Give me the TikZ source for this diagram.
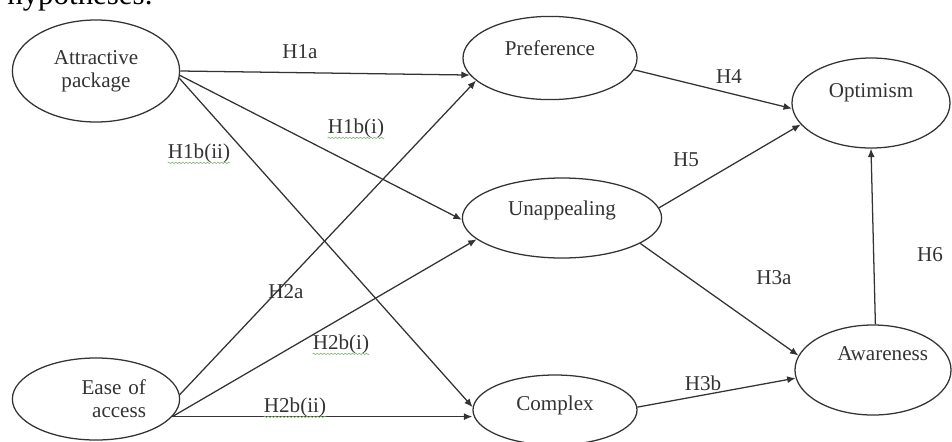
\documentclass[tikz,border=0pt]{standalone}
\usepackage{fontspec}
\setmainfont{Liberation Serif}
\usetikzlibrary{shapes.geometric,arrows.meta,decorations.pathmorphing}
\definecolor{spellgreen}{RGB}{125,175,110}

\begin{document}
\begin{tikzpicture}[x=0.025cm, y=-0.025cm]
	\tikzstyle{var}=[ellipse, draw=black!80, line width=0.9pt, inner sep=0pt, text=black!80, font=\fontsize{15}{16.5}\selectfont]
	\tikzstyle{hyp}=[inner sep=0pt, text=black!80, font=\fontsize{15}{16.5}\selectfont]
	\tikzstyle{arr}=[-{Latex[length=6pt, width=5pt]}, draw=black!80, line width=0.9pt]
	\tikzstyle{spell}=[spellgreen, line width=0.4pt, decorate, decoration={snake, amplitude=0.5pt, segment length=2.5pt}]
	\useasboundingbox (0, 0) rectangle (952, 441);

	\draw node[anchor=base west, inner sep=0pt, font=\fontsize{22}{26}\selectfont] at (7, 4) (top) {hypotheses.};

	\draw node[var, minimum width=4.18cm, minimum height=2.55cm, align=center] at (96, 71) (ap) {Attractive\\package};
	\draw node[var, minimum width=4.18cm, minimum height=2.05cm, text width=2.5cm, align=right] at (96, 399) (eoa) {Ease of\\access};
	\draw node[var, minimum width=4.35cm, minimum height=2.08cm, text height=10pt, text depth=14pt] at (550, 58) (pref) {Preference};
	\draw node[var, minimum width=4.98cm, minimum height=2cm, text height=10pt, text depth=14pt] at (562, 218) (unap) {Unappealing};
	\draw node[var, minimum width=4.1cm, minimum height=1.75cm, text height=10pt, text depth=10pt] at (555, 410) (cplx) {Complex};
	\draw node[var, minimum width=3.95cm, minimum height=2.25cm, text height=10pt, text depth=18pt] at (871, 103) (opt) {Optimism};
	\draw node[var, minimum width=3.9cm, minimum height=2.25cm, text height=10pt, text depth=23pt, text width=2.75cm, align=right] at (873, 370) (awa) {Awareness};

	\draw [arr] (ap.east) -- (pref.192);
	\draw [arr] (ap.-3) -- (unap.181);
	\draw [arr] (ap.-5) -- (cplx.178);
	\draw [arr] (eoa.3) -- (pref.197);
	\draw [arr] (eoa.-13) -- (unap.194);
	\draw [arr] (eoa.-13) -- (eoa.-13 -| cplx.west);
	\draw [arr] (pref.-8) -- (opt.184);
	\draw [arr] (unap.6) -- (opt.197);
	\draw [arr] (unap.-18) -- (awa.169);
	\draw [arr] (cplx.2) -- (awa.186);
	\draw [arr] (awa.87) -- (opt.south);

	\draw node[hyp] at (300, 52) (h1a) {H1a};
	\draw node[hyp] at (356, 128) (h1bi) {H1b(i)};
	\draw node[hyp] at (199, 153) (h1bii) {H1b(ii)};
	\draw node[hyp] at (286, 292) (h2a) {H2a};
	\draw node[hyp] at (341, 344) (h2bi) {H2b(i)};
	\draw node[hyp] at (295, 407) (h2bii) {H2b(ii)};
	\draw node[hyp] at (729, 77) (h4) {H4};
	\draw node[hyp] at (686, 160) (h5) {H5};
	\draw node[hyp] at (774, 278) (h3a) {H3a};
	\draw node[hyp] at (930, 255) (h6) {H6};
	\draw node[hyp] at (703, 383) (h3b) {H3b};

	% spell-check marks
	\draw [spell] (h1bi.south west) -- (h1bi.south east);
	\draw [spell] (h1bii.south west) -- (h1bii.south east);
	\draw [spell] (h2bi.south west) -- (h2bi.south east);
	\draw [spell] (h2bii.south west) -- (h2bii.south east);
\end{tikzpicture}
\end{document}
